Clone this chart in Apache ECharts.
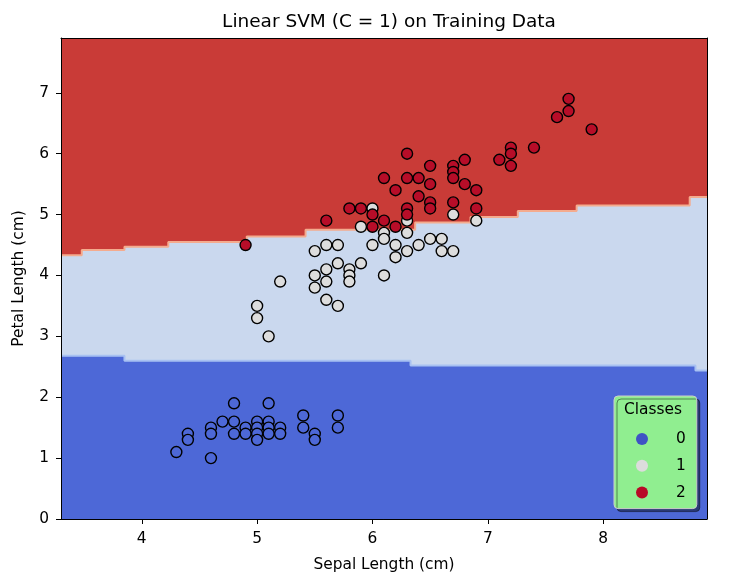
<!DOCTYPE html>
<html>
<head>
<meta charset="utf-8">
<script src="https://cdn.jsdelivr.net/npm/echarts@6/dist/echarts.min.js"></script>
<style>html,body{margin:0;padding:0;background:#fff}#c{width:738px;height:584px}</style>
</head>
<body>
<div id="c"></div>
<script>
// ---- data ----
const xRange = [3.3, 8.9];
const yRange = [0, 7.9];
const xTicks = [4, 5, 6, 7, 8];
const yTicks = [0, 1, 2, 3, 4, 5, 6, 7];

// decision-region boundaries (step start x, level y)
const upperRegionTop = [[3.3, 7.9], [8.9, 7.9]];
const boundary12 = [[3.3, 4.33], [3.48, 4.42], [3.85, 4.47], [4.23, 4.55], [4.91, 4.64], [5.42, 4.75],
  [6.37, 4.87], [6.85, 4.96], [7.26, 5.06], [7.77, 5.15], [8.75, 5.29], [8.9, 5.29]];
const boundary01 = [[3.3, 2.68], [3.85, 2.60], [6.33, 2.52], [8.8, 2.44], [8.9, 2.44]];

const class0 = [[4.3,1.1],[4.4,1.4],[4.4,1.3],[4.6,1.5],[4.6,1.4],[4.6,1.0],[4.7,1.6],[4.8,1.9],[4.8,1.6],[4.8,1.4],
  [4.9,1.5],[4.9,1.4],[5.0,1.6],[5.0,1.5],[5.0,1.4],[5.0,1.3],[5.1,1.9],[5.1,1.6],[5.1,1.5],[5.1,1.4],
  [5.2,1.5],[5.2,1.4],[5.4,1.7],[5.4,1.5],[5.5,1.4],[5.5,1.3],[5.7,1.7],[5.7,1.5]];
const class1 = [[5.5,4.4],[5.6,4.5],[5.7,4.5],[5.7,4.2],[5.6,4.1],[5.5,4.0],[5.5,3.8],[5.6,3.9],[5.2,3.9],[5.6,3.6],
  [5.7,3.5],[5.0,3.5],[5.0,3.3],[5.1,3.0],[5.8,4.1],[5.8,4.0],[5.8,3.9],[5.9,4.8],[6.0,5.1],[6.1,4.7],
  [6.1,4.6],[6.3,4.7],[6.0,4.5],[6.2,4.5],[6.3,4.4],[6.2,4.3],[6.4,4.5],[6.5,4.6],[6.6,4.6],[6.6,4.4],
  [6.7,4.4],[5.9,4.2],[6.1,4.0],[6.7,5.0],[6.3,4.9],[6.9,4.9]];
const class2 = [[4.9,4.5],[5.6,4.9],[5.8,5.1],[5.9,5.1],[6.0,5.0],[6.0,4.8],[6.1,4.9],[6.2,4.8],[6.3,5.1],[6.3,5.0],
  [6.3,6.0],[6.5,5.8],[6.7,5.8],[6.7,5.7],[6.7,5.6],[6.8,5.9],[6.1,5.6],[6.3,5.6],[6.4,5.6],[6.5,5.5],
  [6.8,5.5],[6.9,5.4],[6.2,5.4],[6.4,5.3],[6.5,5.2],[6.5,5.1],[6.7,5.2],[6.9,5.1],[7.7,6.9],[7.7,6.7],
  [7.6,6.6],[7.9,6.4],[7.2,6.1],[7.2,6.0],[7.4,6.1],[7.1,5.9],[7.2,5.8]];
const classNames = ['0', '1', '2'];

// ---- chart ----
const FONT = 'DejaVu Sans';
const FS = 15.4;
const chart = echarts.init(document.getElementById('c'));

function regionSeries(data, color) {
  return { type: 'line', data: data, step: 'end', symbol: 'none', silent: true,
    lineStyle: { width: 0 }, areaStyle: { color: color, opacity: 1, origin: 'start' }, z: 1 };
}
function edgeSeries(data, color) {
  return { type: 'line', data: data, step: 'end', symbol: 'none', silent: true,
    lineStyle: { width: 2, color: color }, z: 1 };
}
function pointSeries(name, data, color) {
  return { name: name, type: 'scatter', data: data, symbol: 'circle', symbolSize: 11,
    itemStyle: { color: color, borderColor: '#000', borderWidth: 1.4, opacity: 1 }, z: 3 };
}

const axisCommon = {
  type: 'value', z: 5,
  axisLine: { show: true, onZero: false, lineStyle: { color: '#000', width: 1 } },
  splitLine: { show: false }
};

chart.setOption({
  animation: false,
  backgroundColor: '#fff',
  title: { text: 'Linear SVM (C = 1) on Training Data', left: 384, top: 8, textAlign: 'center',
    textStyle: { fontFamily: FONT, fontSize: 18.5, fontWeight: 'normal', color: '#000' } },
  grid: { left: 61, right: 31, top: 38, bottom: 65 },
  xAxis: [
    Object.assign({}, axisCommon, { min: xRange[0], max: xRange[1], position: 'bottom',
      name: 'Sepal Length (cm)', nameLocation: 'middle', nameGap: 38,
      nameTextStyle: { fontFamily: FONT, fontSize: FS, color: '#000' },
      axisTick: { show: true, inside: false, length: 5, lineStyle: { color: '#000' }, customValues: xTicks },
      axisLabel: { customValues: xTicks, margin: 12, fontFamily: FONT, fontSize: FS, color: '#000' } }),
    Object.assign({}, axisCommon, { min: xRange[0], max: xRange[1], position: 'top',
      axisTick: { show: false }, axisLabel: { show: false } })
  ],
  yAxis: [
    Object.assign({}, axisCommon, { min: yRange[0], max: yRange[1], position: 'left',
      name: 'Petal Length (cm)', nameLocation: 'middle', nameGap: 35, nameRotate: 90,
      nameTextStyle: { fontFamily: FONT, fontSize: FS, color: '#000' },
      axisTick: { show: true, inside: false, length: 5, lineStyle: { color: '#000' }, customValues: yTicks },
      axisLabel: { customValues: yTicks, margin: 12, fontFamily: FONT, fontSize: FS, color: '#000' } }),
    Object.assign({}, axisCommon, { min: yRange[0], max: yRange[1], position: 'right',
      axisTick: { show: false }, axisLabel: { show: false } })
  ],
  legend: {
    orient: 'vertical', left: 614, top: 396,
    padding: [34, 11, 7, 22], itemGap: 8.8, itemWidth: 12, itemHeight: 12,
    backgroundColor: '#90ee90', borderColor: '#cccccc', borderWidth: 1, borderRadius: 4,
    shadowColor: 'rgba(0,0,0,0.45)', shadowOffsetX: 3, shadowOffsetY: 3, shadowBlur: 0,
    icon: 'circle',
    itemStyle: { borderWidth: 0 },
    textStyle: { fontFamily: FONT, fontSize: FS, lineHeight: 18, color: '#000', padding: [0, 0, 0, 23] },
    data: [
      { name: classNames[0], itemStyle: { color: '#3f52c4', borderWidth: 0 } },
      { name: classNames[1], itemStyle: { color: '#dcdcdc', borderWidth: 0 } },
      { name: classNames[2], itemStyle: { color: '#b80a27', borderWidth: 0 } }
    ]
  },
  graphic: [{
    type: 'text', left: 624, top: 402, z: 100,
    style: { text: 'Classes', font: FS + 'px "DejaVu Sans"', fill: '#000' }
  }],
  series: [
    regionSeries(upperRegionTop, '#c93b37'),
    regionSeries(boundary12, '#cad8ee'),
    regionSeries(boundary01, '#4d68d7'),
    edgeSeries(boundary12, '#f4ab8e'),
    edgeSeries(boundary01, '#a8c1f2'),
    pointSeries(classNames[0], class0, '#4d68d7'),
    pointSeries(classNames[1], class1, '#dddddd'),
    pointSeries(classNames[2], class2, '#b70d28')
  ]
});
</script>
</body>
</html>
